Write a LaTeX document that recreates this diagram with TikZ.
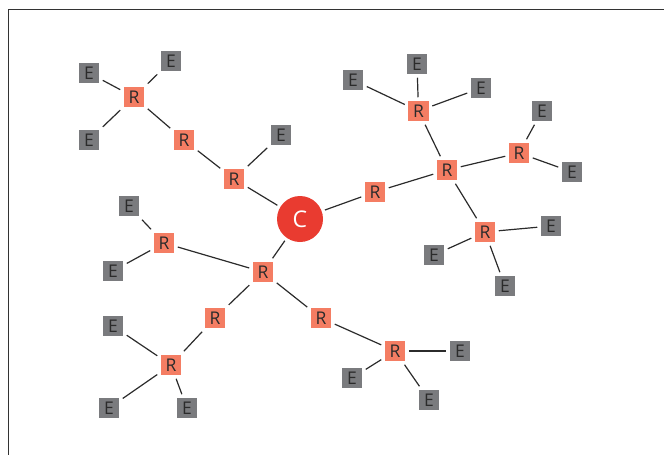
\documentclass[tikz,border=0pt]{standalone}
\usepackage{fontspec}
\setmainfont{Open Sans}
\definecolor{rfill}{HTML}{F47D63}
\definecolor{efill}{HTML}{7A7B7E}
\definecolor{cfill}{HTML}{E93B30}
\definecolor{txt}{HTML}{2B2B2B}
\definecolor{framec}{HTML}{333333}
\tikzset{
  box/.style={rectangle, minimum size=20.5pt, inner sep=0pt, outer sep=3.5pt, text=txt, font=\fontsize{17.5}{17.5}\selectfont},
  rbox/.style={box, fill=rfill},
  ebox/.style={box, fill=efill},
  cnode/.style={circle, fill=cfill, minimum size=46pt, inner sep=0pt, outer sep=3.5pt, text=white, font=\fontsize{23}{23}\selectfont},
  link/.style={draw=txt, line width=1.2pt}
}
\begin{document}
\begin{tikzpicture}[x=1pt,y=-1pt]
\useasboundingbox (0,0) rectangle (664,455);
\draw[framec, line width=1pt] (8.5,455) -- (8.5,9.5) -- (664,9.5);
% nodes
\node[rbox] (r1) at (134,97) {R};
\node[ebox] (e1) at (89,73) {E};
\node[ebox] (e2) at (171,61) {E};
\node[ebox] (e3) at (89,140) {E};
\node[rbox] (r2) at (184,140) {R};
\node[rbox] (r3) at (234,179) {R};
\node[ebox] (e4) at (281,135) {E};
\node[cnode] (c) at (300,219) {C};
\node[rbox] (r4) at (375,192) {R};
\node[rbox] (r5) at (447,170) {R};
\node[rbox] (r6) at (418.5,111) {R};
\node[ebox] (e5) at (353,80) {E};
\node[ebox] (e6) at (417,64) {E};
\node[ebox] (e7) at (481,88) {E};
\node[rbox] (r7) at (519,153) {R};
\node[ebox] (e8) at (542,111) {E};
\node[ebox] (e9) at (572,172) {E};
\node[rbox] (r8) at (485,232) {R};
\node[ebox] (e10) at (551,226) {E};
\node[ebox] (e11) at (434,255) {E};
\node[ebox] (e12) at (505,286) {E};
\node[rbox] (r9) at (263,272) {R};
\node[rbox] (r10) at (164,243) {R};
\node[ebox] (e13) at (129,206) {E};
\node[ebox] (e14) at (113,271) {E};
\node[rbox] (r11) at (215,318) {R};
\node[rbox] (r12) at (171,365) {R};
\node[ebox] (e15) at (113,326) {E};
\node[ebox] (e16) at (109,408) {E};
\node[ebox] (e17) at (187,408) {E};
\node[rbox] (r13) at (321,318) {R};
\node[rbox] (r14) at (395,351) {R};
\node[ebox] (e18) at (460,351) {E};
\node[ebox] (e19) at (352,378) {E};
\node[ebox] (e20) at (429,400) {E};
% links
\draw[link] (r1) -- (e1);
\draw[link] (r1) -- (e2);
\draw[link] (r1) -- (e3);
\draw[link] (r1) -- (r2);
\draw[link] (r2) -- (r3);
\draw[link] (r3) -- (e4);
\draw[link] (r3) -- (c);
\draw[link] (c) -- (r4);
\draw[link] (c) -- (r9);
\draw[link] (r4) -- (r5);
\draw[link] (r5) -- (r6);
\draw[link] (r5) -- (r7);
\draw[link] (r5) -- (r8);
\draw[link] (r6) -- (e5);
\draw[link] (r6) -- (e6);
\draw[link] (r6) -- (e7);
\draw[link] (r7) -- (e8);
\draw[link] (r7) -- (e9);
\draw[link] (r8) -- (e10);
\draw[link] (r8) -- (e11);
\draw[link] (r8) -- (e12);
\draw[link] (r9) -- (r10);
\draw[link] (r9) -- (r11);
\draw[link] (r9) -- (r13);
\draw[link] (r10) -- (e13);
\draw[link] (r10) -- (e14);
\draw[link] (r11) -- (r12);
\draw[link] (r12) -- (e15);
\draw[link] (r12) -- (e16);
\draw[link] (r12) -- (e17);
\draw[link] (r13) -- (r14);
\draw[link] (r14) -- (e18);
\draw[link] (r14) -- (e19);
\draw[link] (r14) -- (e20);
\end{tikzpicture}
\end{document}
